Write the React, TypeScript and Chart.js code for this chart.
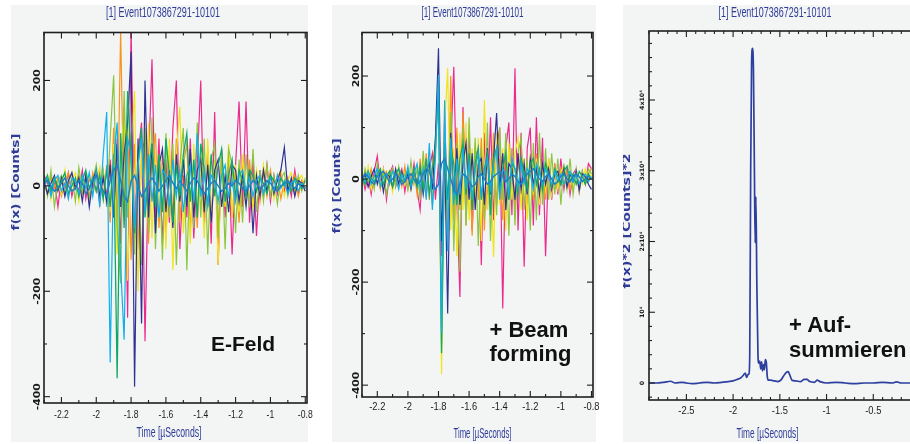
import React, { useEffect, useRef } from "react";
import { Chart, registerables } from "chart.js";

Chart.register(...registerables);

// ---------------- DATA ----------------
const TIME = [
  -2.3, -2.28, -2.26, -2.24, -2.22, -2.2, -2.18, -2.16, -2.14, -2.12,
  -2.1, -2.08, -2.06, -2.04, -2.02, -2.0, -1.98, -1.96, -1.94, -1.92,
  -1.9, -1.88, -1.86, -1.84, -1.82, -1.8, -1.78, -1.76, -1.74, -1.72,
  -1.7, -1.68, -1.66, -1.64, -1.62, -1.6, -1.58, -1.56, -1.54, -1.52,
  -1.5, -1.48, -1.46, -1.44, -1.42, -1.4, -1.38, -1.36, -1.34, -1.32,
  -1.3, -1.28, -1.26, -1.24, -1.22, -1.2, -1.18, -1.16, -1.14, -1.12,
  -1.1, -1.08, -1.06, -1.04, -1.02, -1.0, -0.98, -0.96, -0.94, -0.92,
  -0.9, -0.88, -0.86, -0.84, -0.82, -0.8,
];

// Panel 1: E-Feld
const P1_MAGENTA = [
  20, 5, -15, 10, -40, 15, -5, 25, -20, 10, -10, 30, -25, 15, -5, 20, -35, 25,
  -20, 50, -60, 90, -110, 150, -250, 300, -100, 60, 120, -295, 40, 240, -60,
  90, -110, 50, -70, 110, 200, -120, 20, -60, 90, -100, 40, 200, -80, 60, -110, 140, -150, 70, -60, 50, -130, 40, 160, -40, 160, -70, 50,
  -95, 30, -20, 40, -30, 20, -15, 25, -10, 15, -20, 30, -15, 10, -5,
];
const P1_ORANGE = [
  10, -15, 20, -5, 15, -20, 5, 25, -10, 0, 20, -15, 10, -20, 25, -10, 30, -25,
  40, -70, 110, -90, 295, -60, 120, -140, 80, -120, 60, 90, -110, 50, 100,
  -80, 60, -100, 70, -60, 90, -70, 40, 80, -90, 50, -80, 60, -40, 70, -60, 30, -80, 60, -40, 50, -60, 30, -70, 40, -30, 50, -40,
  20, -30, 25, -20, 30, -15, 20, -25, 10, 15, -10, 20, -20, 10, 5,
];
const P1_YELLOW = [
  -10, 20, -25, 15, 5, -15, 30, -20, 10, 25, -30, 15, -5, 20, -15, 10, 35, -20,
  30, -50, 80, -130, 60, 140, -180, 60, 180, -200, 90, -40, 120, -100, 70,
  -60, 40, -120, 90, -160, 60, 150, -90, 30, -110, 80, -50, 40, -100, 90, -70, 50, -150, 60, -40, 80, -60, 40, -50, 60, -30, 20, -40,
  30, -20, 40, -10, 20, -25, 15, 30, -20, 10, 25, -15, 10, 20, -10,
];
const P1_LIME = [
  15, -20, 30, -40, 10, 20, -15, 5, 25, -30, 35, -10, 20, -25, 10, 40, -20, 30,
  -40, 90, 210, -80, -185, 180, -60, 100, -130, 70, -150, 110, -90, 130, -120,
  60, -140, 100, -60, 80, -150, 40, 110, -160, 60, -80, 120, -60, 90, -130, 50, 80, -100, 60, -120, 70, 40, -90, 50, -70, 60, -40, 70,
  -50, 30, -30, 40, -20, 20, -35, 15, 25, -20, 10, -15, 20, -10, 15,
];
const P1_GREEN = [
  5, 20, -10, 15, -5, 10, 25, -15, 0, 15, -20, 10, 30, -5, 15, -10, 20, -25,
  30, -40, 60, -365, 100, -80, 180, 50, -90, 40, 110, -60, 30, 80, -40,
  60, -50, 90, 20, -70, 40, -20, 60, 100, -30, 50, -60, 80, 30, -40, 60, -20, 40, 70, -30, 20, 50, -20, 30, 10, -20, 30, 20,
  -10, 15, 5, -15, 20, 10, -5, 15, 0, 10, -10, 15, 5, -5, 10,
];
const P1_CYAN = [
  -5, 15, -20, 10, 20, -10, 5, -25, 15, 10, -15, 20, -5, 25, -20, 30, -40, 60,
  140, -335, 50, 120, -150, -292, 90, 60, -80, 40, 90, -50, 60, -30, 40,
  -60, 30, 20, -40, 50, -20, 30, -50, 20, 40, -30, 100, -20, 30, -40, 20, 10, -30, 20, 40, -20, 10, -30, 20, 30, -10, 15, -20,
  10, 20, -15, 5, 15, -10, 20, -5, 10, -15, 5, 10, -10, 5, -5,
];
const P1_NAVY = [
  10, -15, 5, 20, -10, 15, -20, 10, 25, -5, 15, -30, 20, -40, 10, 30, -20, 15,
  -30, 40, -60, 80, -40, 60, 120, 255, -381, 90, -261, 200, -60, 80, -90,
  40, 70, -50, 30, -80, 60, -30, 50, -40, 70, -60, 30, 50, -50, 40, -70, 30, 50, -40, 20, -50, 40, 30, -30, 20, -40, 30, -90,
  20, -20, 30, -10, 20, -15, 10, 30, 73, -10, 15, -20, 10, 5, -10,
];
const P1_BLUE = [
  5, 10, 0, -10, -5, 5, 15, 0, -10, -5, 10, 5, -15, -5, 10, 20, 5, -10,
  -20, 10, 30, 40, 10, -20, -30, 10, 20, 0, -20, -10, 5, 15, 5,
  -10, 0, 10, 20, 5, -5, 10, 0, -10, 5, 15, 10, -5, -15, -5, 5, 10, 0, -10, -5, 5, 0, 10, 5, -5, -10, 0, 10,
  5, -5, 0, 10, 5, -5, -10, 0, 5, 10, 0, -5, 5, 0, -5,
];

// Panel 2: + Beam forming
const P2_MAGENTA = [
  10, -20, 5, -30, 15, 45, -10, 20, -40, 10, 25, -15, 5, 20, -25, 10, -15, 30,
  -20, -60, 40, -30, 20, 50, -40, 30, -150, 120, -80, 60, 218, -40, -229,
  140, -60, 80, -100, 40, 60, -167, 90, -60, 120, -80, 60, 100, -251, 60, 110, -70, 215, -100, 90, -170, 60, 100, -90, 120, -70, 80, -150,
  40, -40, 30, -30, 40, -20, 20, -30, 10, 20, -25, 15, -10, 30, 20,
];
const P2_ORANGE = [
  -10, 15, -5, 20, -15, 10, -20, 5, 15, -10, 20, -5, 10, -15, 25, -20, 10, 20,
  -30, 40, -20, 50, -40, 30, 70, 180, -300, 140, -120, 200, -80, 100, -60,
  130, -90, 60, -110, 70, -40, 80, -100, 60, -70, 90, -50, 40, -80, 70, -40, 60, -60, 50, -30, 40, -50, 30, -40, 50, -30, 20, -40,
  30, -20, 25, -15, 20, -10, 15, -20, 10, 5, -10, 15, -5, 10, 20,
];
const P2_YELLOW = [
  15, -10, 25, -20, 5, 10, -15, 20, -5, 15, -25, 10, 0, 15, -10, 20, -20, 10,
  25, -30, 40, -20, 30, -40, 60, 200, -379, 100, 215, -100, 60, -150, 90,
  -60, 110, -80, 60, -40, 80, -120, 153, -60, 40, -151, 90, -50, 60, -100, 70, -40, 50, 80, -60, 40, -80, 50, -30, 40, -50, 30, -20,
  40, -30, 20, -20, 15, 25, -15, 10, -20, 15, 5, -10, 20, -5, 10,
];
const P2_LIME = [
  -15, 20, -5, 10, -20, 30, -10, 15, -30, 5, 20, -15, 25, -5, 10, -20, 35, -10,
  20, -40, 55, -30, 40, -50, 80, 190, -320, 90, -60, 130, -140, 70, -180,
  100, -90, 120, -60, 80, -130, 60, -80, 110, -120, 50, -70, 100, -40, 90, -110, 60, -90, 50, 80, -60, 40, -100, 70, -80, 90, -50, 60,
  -40, 50, -30, 40, -50, 30, -20, 40, -30, 20, -25, 15, -10, 20, 10,
];
const P2_GREEN = [
  5, -10, 15, 0, -5, 10, 20, -10, 5, 15, -15, 10, 20, -5, 0, 15, -10, 20,
  -15, 25, -20, 40, -30, 20, 60, 180, -338, 70, -40, 60, 30, -50, 40,
  70, -30, 50, -60, 30, 60, -40, 20, 50, -70, 40, 60, -30, 20, 50, -40, 30, 20, -30, 40, 10, -20, 30, 40, -10, 20, -20, 30,
  10, -15, 20, 5, -10, 15, 25, -5, 10, -10, 15, 5, -10, 10, 0,
];
const P2_CYAN = [
  10, -5, 15, -10, 5, 20, -15, 5, 10, -10, 15, 5, -20, 10, -5, 25, -15, 10,
  30, -20, 20, -40, 70, -60, 40, 202, -300, 153, -140, 80, -50, 40, -30,
  60, -20, 30, -40, 20, 50, -30, 10, 40, -20, 30, 60, -40, 20, 10, -30, 40, 20, -20, 30, -10, 20, 10, -20, 30, 10, -10, 20,
  5, -10, 15, -5, 10, -10, 5, 15, -5, 10, -10, 5, 10, -5, 5,
];
const P2_NAVY = [
  -5, 10, -15, 5, 20, -10, 15, -25, 10, 5, -15, 20, -10, 15, -5, 10, -20, 15,
  -10, 20, -30, 15, 30, -20, 80, 254, -120, 60, -261, 90, -40, 60, -50,
  30, 70, -40, 50, -60, 30, 40, -50, 60, -30, 40, 128, -20, 50, -60, 30, 20, -40, 50, -20, 30, -30, 40, -10, 20, -30, 30, -10,
  20, -20, 10, 15, -10, 20, -15, 10, -5, 15, -20, 10, 5, -10, -20,
];
const P2_BLUE = [
  0, 10, 5, -5, -10, 5, 10, 15, 5, -5, 0, 10, 5, -10, -5, 5, 10, 0,
  -10, -5, 10, 20, 15, -5, -20, -10, 30, 40, 20, 0, -20, -30, -10,
  10, 5, -5, -15, -10, 5, 10, 0, -10, -5, 5, 10, 15, 5, -5, 0, 10, 5, -5, -10, 0, 10, 15, 20, 10, 0, -5, 5,
  10, 0, -10, -5, 5, 10, 0, -5, 5, 10, 5, -5, 0, 5, 0,
];

// Panel 3: + Aufsummieren (power)
const P3_TIME = [
  -2.9, -2.82, -2.74, -2.67, -2.62, -2.55, -2.5, -2.44, -2.36, -2.28,
  -2.2, -2.12, -2.05, -2.0, -1.96, -1.92, -1.89, -1.87, -1.855, -1.84,
  -1.83, -1.822, -1.812, -1.802, -1.792, -1.782, -1.772, -1.764, -1.756, -1.746,
  -1.734, -1.725, -1.715, -1.705, -1.695, -1.685, -1.675, -1.665, -1.655, -1.645,
  -1.635, -1.625, -1.6, -1.56, -1.52, -1.49, -1.46, -1.43, -1.41, -1.39,
  -1.37, -1.33, -1.28, -1.24, -1.21, -1.18, -1.13, -1.1, -1.07, -1.0,
  -0.9, -0.8, -0.7, -0.6, -0.5, -0.4, -0.3, -0.25, -0.2, -0.1, 0,
];
const P3_POWER = [
  0, 0, 100, 250, 0, 100, 0, -100, 0, 100,
  0, 100, 200, 300, 500, 700, 1100, 1400, 800, 1200,
  1300, 4000, 30000, 45500, 47300, 44000, 30000, 19800, 26300, 14000,
  4000, 2800, 3100, 2000, 3000, 1700, 2600, 1900, 3300, 3000,
  1000, 400, 400, 300, 200, 400, 1000, 1500, 1600, 1000,
  400, 300, 200, 500, 500, 200, 100, 400, 200, 0,
  100, 0, -100, 0, 0, 100, 0, 150, 0, 0, 0,
];

// Ticks
const P12_X_TICKS = [-2.2, -2.0, -1.8, -1.6, -1.4, -1.2, -1.0, -0.8];
const P12_X_LABELS = ["-2.2", "-2", "-1.8", "-1.6", "-1.4", "-1.2", "-1", "-0.8"];
const P12_Y_TICKS = [-400, -200, 0, 200];
const P12_Y_LABELS = ["-400", "-200", "0", "200"];
const P3_X_TICKS = [-2.5, -2.0, -1.5, -1.0, -0.5];
const P3_X_LABELS = ["-2.5", "-2", "-1.5", "-1", "-0.5"];
const P3_Y_TICKS = [0, 10000, 20000, 30000, 40000];
const P3_Y_LABELS = ["0", "10⁴", "2x10⁴", "3x10⁴", "4x10⁴"];

const TITLE = "[1] Event1073867291-10101";
const X_TITLE = "Time [µSeconds]";

// ---------------- STYLE ----------------
const GRAY = "#f3f5f5";
const NAVY_TEXT = "#2e3b98";
const C = {
  magenta: "#ec2a8c",
  orange: "#f7931e",
  yellow: "#f2e41a",
  lime: "#8cc63e",
  green: "#12a867",
  cyan: "#12aeea",
  navy: "#2e3192",
  blue: "#1c7fc4",
};
const NARROW = "'Liberation Sans Narrow', 'Liberation Sans', Arial, sans-serif";
const DEJAVU = "'DejaVu Sans', sans-serif";

function drawText(ctx: any, text: string, x: number, y: number, font: string, opts: { width?: number; sx?: number; rot?: number; color: string }) {
  ctx.save();
  ctx.font = font;
  ctx.fillStyle = opts.color;
  ctx.textAlign = "center";
  ctx.textBaseline = "middle";
  const w = ctx.measureText(text).width;
  ctx.translate(x, y);
  if (opts.rot) ctx.rotate(opts.rot);
  const sx = opts.width ? opts.width / w : opts.sx ?? 1;
  ctx.scale(sx, 1);
  ctx.fillText(text, 0, 0);
  ctx.restore();
}

function makeFrame(cfg: any) {
  return {
    id: "frame_" + cfg.key,
    beforeDraw(chart: any) {
      const { ctx } = chart;
      ctx.save();
      ctx.fillStyle = GRAY;
      ctx.fillRect(0, 0, cfg.grayW, cfg.h);
      ctx.restore();
    },
    afterDatasetsDraw(chart: any) {
      const { ctx, chartArea: a } = chart;
      const xs = chart.scales.x;
      const ys = chart.scales.y;
      ctx.save();
      ctx.strokeStyle = "#1e1e1e";
      ctx.lineWidth = 1.1;
      const seg = (x1: number, y1: number, x2: number, y2: number) => {
        ctx.beginPath();
        ctx.moveTo(x1, y1);
        ctx.lineTo(x2, y2);
        ctx.stroke();
      };
      const xn0 = Math.ceil(xs.min / cfg.xMinor - 1e-6);
      const xn1 = Math.floor(xs.max / cfg.xMinor + 1e-6);
      for (let n = xn0; n <= xn1; n++) {
        const v = n * cfg.xMinor;
        const p = xs.getPixelForValue(v);
        const major = cfg.xTicks.some((t: number) => Math.abs(t - v) < 1e-6);
        const L = major ? 6 : 3;
        seg(p, a.bottom, p, a.bottom - L);
        seg(p, a.top, p, a.top + L);
      }
      const yn0 = Math.ceil(ys.min / cfg.yMinor - 1e-6);
      const yn1 = Math.floor(ys.max / cfg.yMinor + 1e-6);
      for (let n = yn0; n <= yn1; n++) {
        const v = n * cfg.yMinor;
        const p = ys.getPixelForValue(v);
        const major = cfg.yTicks.some((t: number) => Math.abs(t - v) < 1e-6);
        const L = major ? 6 : 3;
        seg(a.left, p, a.left + L, p);
        seg(a.right, p, a.right - L, p);
      }
      ctx.lineWidth = 1.6;
      ctx.strokeRect(a.left, a.top, a.right - a.left, a.bottom - a.top);

      cfg.xTicks.forEach((t: number, i: number) => {
        const p = xs.getPixelForValue(t);
        drawText(ctx, cfg.xLabels[i], p, cfg.xLabelY, "11px " + NARROW, { sx: cfg.xLabelSx, color: "#1a1a1a" });
      });
      cfg.yTicks.forEach((t: number, i: number) => {
        const p = ys.getPixelForValue(t);
        drawText(ctx, cfg.yLabels[i], a.left - cfg.yLabelOff, p, cfg.yLabelFont, { sx: cfg.yLabelSx, rot: -Math.PI / 2, color: "#1a1a1a" });
      });
      drawText(ctx, TITLE, cfg.title[0], cfg.title[1], "15px " + NARROW, { width: cfg.title[2], color: NAVY_TEXT });
      drawText(ctx, X_TITLE, cfg.xTitle[0], cfg.xTitle[1], "14px " + NARROW, { width: cfg.xTitle[2], color: NAVY_TEXT });
      drawText(ctx, cfg.yTitleText, cfg.yTitle[0], cfg.yTitle[1], "bold 10px " + DEJAVU, { width: cfg.yTitle[2], rot: -Math.PI / 2, color: NAVY_TEXT });
      ctx.restore();
    },
  };
}

function Panel({ cfg }: { cfg: any }) {
  const ref = useRef<HTMLCanvasElement>(null);
  useEffect(() => {
    if (!ref.current) return;
    const chart = new Chart(ref.current, {
      type: "line",
      data: {
        datasets: cfg.series.map((s: any) => ({
          data: s.x.map((t: number, i: number) => ({ x: t, y: s.y[i] })),
          borderColor: s.color,
          borderWidth: s.width,
          pointRadius: 0,
          fill: false,
          tension: 0,
          cubicInterpolationMode: s.mono ? "monotone" : "default",
        })),
      },
      options: {
        responsive: false,
        maintainAspectRatio: false,
        animation: false,
        events: [],
        layout: { padding: cfg.pad },
        scales: {
          x: { type: "linear", display: false, min: cfg.xMin, max: cfg.xMax },
          y: { type: "linear", display: false, min: cfg.yMin, max: cfg.yMax },
        },
        plugins: { legend: { display: false }, tooltip: { enabled: false } },
      },
      plugins: [makeFrame(cfg)],
    } as any);
    return () => chart.destroy();
  }, []);
  return (
    <canvas
      ref={ref}
      width={cfg.w}
      height={cfg.h}
      style={{ position: "absolute", left: cfg.left, top: cfg.top, width: cfg.w, height: cfg.h }}
    />
  );
}

const mk = (vals: any) => [
  { x: TIME, y: vals.blue, color: C.blue, width: 1.4 },
  { x: TIME, y: vals.cyan, color: C.cyan, width: 1.2 },
  { x: TIME, y: vals.green, color: C.green, width: 1.3 },
  { x: TIME, y: vals.navy, color: C.navy, width: 1.2 },
  { x: TIME, y: vals.lime, color: C.lime, width: 1.2 },
  { x: TIME, y: vals.yellow, color: C.yellow, width: 1.2 },
  { x: TIME, y: vals.orange, color: C.orange, width: 1.2 },
  { x: TIME, y: vals.magenta, color: C.magenta, width: 1.2 },
];

const PANEL1 = {
  key: "p1", left: 11, top: 5, w: 307, grayW: 297, h: 437,
  pad: { left: 33, top: 27.5, right: 11, bottom: 39 },
  xMin: -2.3, xMax: -0.79, yMin: -412, yMax: 291,
  xMinor: 0.1, yMinor: 100,
  xTicks: P12_X_TICKS, xLabels: P12_X_LABELS, yTicks: P12_Y_TICKS, yLabels: P12_Y_LABELS,
  xLabelY: 410, xLabelSx: 0.78, yLabelOff: 6, yLabelFont: "bold 8px " + DEJAVU, yLabelSx: 1.35,
  title: [152, 8, 114], xTitle: [158, 428, 65], yTitle: [5, 177, 97], yTitleText: "f(x) [Counts]",
  series: mk({ blue: P1_BLUE, cyan: P1_CYAN, green: P1_GREEN, navy: P1_NAVY, lime: P1_LIME, yellow: P1_YELLOW, orange: P1_ORANGE, magenta: P1_MAGENTA }),
};
const PANEL2 = {
  key: "p2", left: 332, top: 5, w: 274, grayW: 264, h: 437,
  pad: { left: 30, top: 27.5, right: 13, bottom: 45 },
  xMin: -2.3, xMax: -0.79, yMin: -423, yMax: 284.5,
  xMinor: 0.1, yMinor: 100,
  xTicks: P12_X_TICKS, xLabels: P12_X_LABELS, yTicks: P12_Y_TICKS, yLabels: P12_Y_LABELS,
  xLabelY: 402, xLabelSx: 0.85, yLabelOff: 5, yLabelFont: "bold 8px " + DEJAVU, yLabelSx: 1.35,
  title: [140.5, 8, 102], xTitle: [150.5, 429, 58], yTitle: [5, 181, 95], yTitleText: "f(x) [Counts]",
  series: mk({ blue: P2_BLUE, cyan: P2_CYAN, green: P2_GREEN, navy: P2_NAVY, lime: P2_LIME, yellow: P2_YELLOW, orange: P2_ORANGE, magenta: P2_MAGENTA }),
};
const PANEL3 = {
  key: "p3", left: 623, top: 5, w: 310, grayW: 310, h: 437,
  pad: { left: 26, top: 26, right: 13, bottom: 42 },
  xMin: -2.9, xMax: 0, yMin: -2403, yMax: 49753,
  xMinor: 0.1, yMinor: 2000,
  xTicks: P3_X_TICKS, xLabels: P3_X_LABELS, yTicks: P3_Y_TICKS, yLabels: P3_Y_LABELS,
  xLabelY: 405.7, xLabelSx: 0.85, yLabelOff: 6.5, yLabelFont: "bold 6px " + DEJAVU, yLabelSx: 1.05,
  title: [152, 8, 113], xTitle: [144.5, 429, 62], yTitle: [4, 216, 135], yTitleText: "f(x)*2 [Counts]*2",
  series: [{ x: P3_TIME, y: P3_POWER, color: "#2d3f9f", width: 1.7, mono: true }],
};

const labelStyle: React.CSSProperties = {
  position: "absolute",
  fontFamily: "'Liberation Sans', Arial, sans-serif",
  fontWeight: "bold",
  color: "#111",
  whiteSpace: "nowrap",
};

export default function App() {
  return (
    <div style={{ position: "absolute", left: 0, top: 0, width: 910, height: 444, overflow: "hidden", background: "#fff" }}>
      <Panel cfg={PANEL1} />
      <Panel cfg={PANEL2} />
      <Panel cfg={PANEL3} />
      <div style={{ ...labelStyle, left: 211, top: 332.4, fontSize: 21, lineHeight: "24px" }}>E-Feld</div>
      <div style={{ ...labelStyle, left: 489.5, top: 317.7, fontSize: 22, lineHeight: "24.4px" }}>
        + Beam
        <br />
        forming
      </div>
      <div style={{ ...labelStyle, left: 789, top: 312.2, fontSize: 22, lineHeight: "25px" }}>
        + Auf-
        <br />
        summieren
      </div>
    </div>
  );
}
